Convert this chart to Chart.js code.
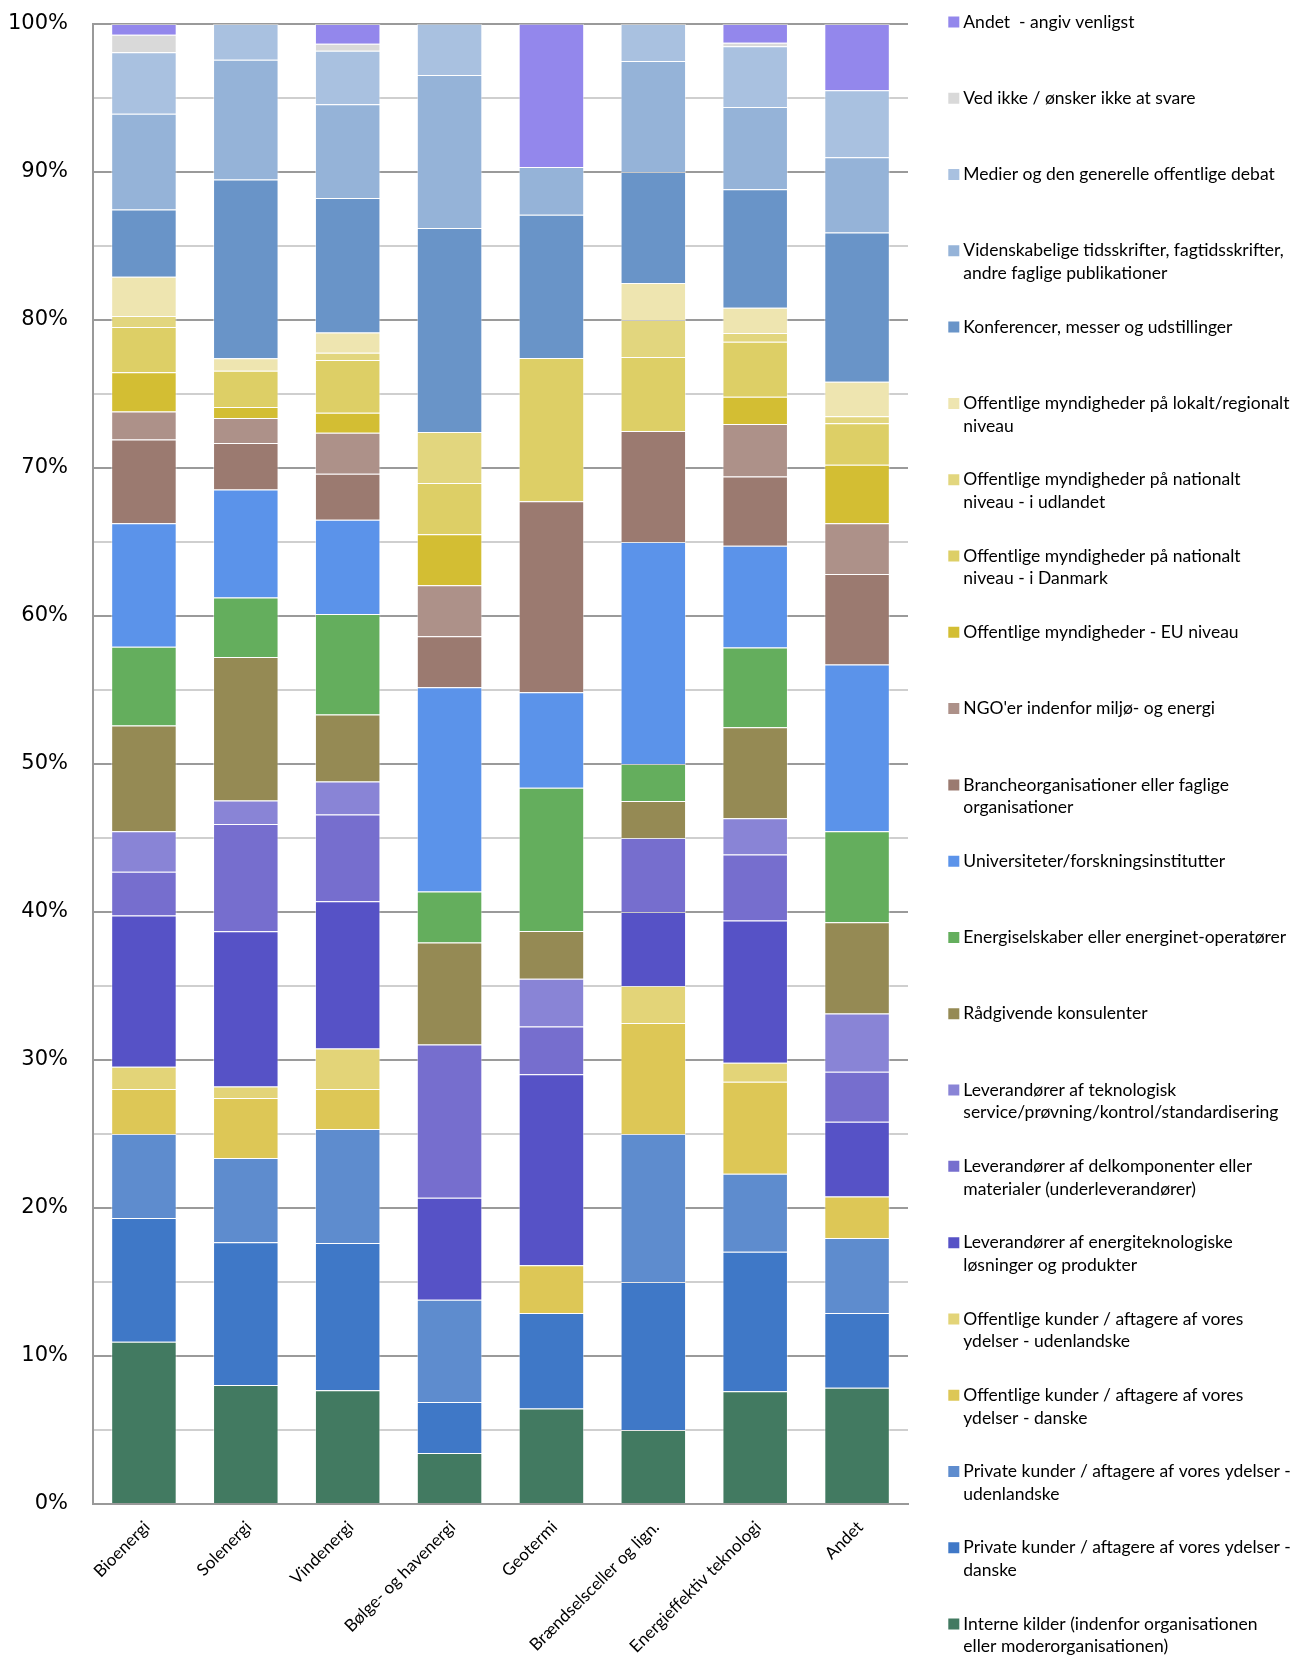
<!DOCTYPE html>
<html lang="da">
<head>
  <meta charset="UTF-8" />
  <title>Kilder til viden fordelt på teknologiområde</title>
  <script src="https://cdn.jsdelivr.net/npm/chart.js"></script>
  <style>
    html, body { margin: 0; padding: 0; background: #fff; }
    #wrap { width: 1302px; height: 1656px; position: relative; }
  </style>
</head>
<body>
  <div id="wrap"><canvas id="chart"></canvas></div>

  <script>
    // Teknologiområder (x-aksen)
    const categories = ['Bioenergi', 'Solenergi', 'Vindenergi', 'Bølge- og havenergi', 'Geotermi',
      'Brændselsceller og lign.', 'Energieffektiv teknologi', 'Andet'];

    // Andele i procent, en liste pr. kilde (nederst i stakken først)
    const interneKilder      = [10.97, 8.04, 7.68, 3.45, 6.45, 5.0, 7.61, 7.85];
    const privateDanske      = [8.35, 9.64, 9.95, 3.45, 6.45, 10.0, 9.44, 5.05];
    const privateUdenlandske = [5.68, 5.70, 7.71, 6.90, 0, 10.0, 5.27, 5.07];
    const offKunderDanske    = [3.04, 4.06, 2.70, 0, 3.23, 7.5, 6.21, 2.80];
    const offKunderUdenl     = [1.51, 0.77, 2.73, 0, 0, 2.5, 1.28, 0];
    const levEnergitek       = [10.21, 10.49, 9.95, 6.90, 12.90, 5.0, 9.61, 5.05];
    const levDelkomponenter  = [2.96, 7.25, 5.86, 10.34, 3.23, 5.0, 4.46, 3.38];
    const levTekService      = [2.73, 1.59, 2.24, 0, 3.23, 0, 2.46, 3.94];
    const raadgivende        = [7.15, 9.69, 4.53, 6.90, 3.23, 2.5, 6.14, 6.16];
    const energiselskaber    = [5.33, 4.02, 6.79, 3.45, 9.68, 2.5, 5.40, 6.15];
    const universiteter      = [8.34, 7.30, 6.36, 13.79, 6.45, 15.0, 6.87, 11.27];
    const brancheorg         = [5.66, 3.14, 3.11, 3.45, 12.90, 7.5, 4.67, 6.12];
    const ngoer              = [1.89, 1.69, 2.78, 3.45, 0, 0, 3.55, 3.42];
    const myndEU             = [2.65, 0.75, 1.35, 3.45, 0, 0, 1.84, 3.96];
    const myndNatDanmark     = [3.05, 2.44, 3.55, 3.45, 9.68, 5.0, 3.72, 2.80];
    const myndNatUdland      = [0.75, 0, 0.49, 3.45, 0, 2.5, 0.60, 0.48];
    const myndLokal          = [2.65, 0.85, 1.37, 0, 0, 2.5, 1.69, 2.32];
    const konferencer        = [4.54, 12.07, 9.09, 13.79, 9.68, 7.5, 8.02, 10.10];
    const videnskabelige     = [6.48, 8.09, 6.33, 10.34, 3.23, 7.5, 5.56, 5.07];
    const medier             = [4.15, 2.42, 3.62, 3.45, 0, 2.5, 4.10, 4.54];
    const vedIkke            = [1.19, 0, 0.48, 0, 0, 0, 0.24, 0];
    const andet              = [0.72, 0, 1.33, 0, 9.68, 0, 1.26, 4.47];

    const seriesValues = [interneKilder, privateDanske, privateUdenlandske, offKunderDanske, offKunderUdenl,
      levEnergitek, levDelkomponenter, levTekService, raadgivende, energiselskaber, universiteter,
      brancheorg, ngoer, myndEU, myndNatDanmark, myndNatUdland, myndLokal, konferencer,
      videnskabelige, medier, vedIkke, andet];

    // legend tekst, brudt i linjer som i originalen
    const seriesNames = [
      ['Interne kilder (indenfor organisationen', 'eller moderorganisationen)'],
      ['Private kunder / aftagere af vores ydelser -', 'danske'],
      ['Private kunder / aftagere af vores ydelser -', 'udenlandske'],
      ['Offentlige kunder / aftagere af vores', 'ydelser - danske'],
      ['Offentlige kunder / aftagere af vores', 'ydelser - udenlandske'],
      ['Leverandører af energiteknologiske', 'løsninger og produkter'],
      ['Leverandører af delkomponenter eller', 'materialer (underleverandører)'],
      ['Leverandører af teknologisk', 'service/prøvning/kontrol/standardisering'],
      ['Rådgivende konsulenter'],
      ['Energiselskaber eller energinet-operatører'],
      ['Universiteter/forskningsinstitutter'],
      ['Brancheorganisationer eller faglige', 'organisationer'],
      ["NGO'er indenfor miljø- og energi"],
      ['Offentlige myndigheder - EU niveau'],
      ['Offentlige myndigheder på nationalt', 'niveau - i Danmark'],
      ['Offentlige myndigheder på nationalt', 'niveau - i udlandet'],
      ['Offentlige myndigheder på lokalt/regionalt', 'niveau'],
      ['Konferencer, messer og udstillinger'],
      ['Videnskabelige tidsskrifter, fagtidsskrifter,', 'andre faglige publikationer'],
      ['Medier og den generelle offentlige debat'],
      ['Ved ikke / ønsker ikke at svare'],
      ['Andet  - angiv venligst']
    ];

    const seriesColors = ['#427a61', '#3f78c7', '#5e8cce', '#ddc756', '#e3d478',
      '#5652c6', '#766ece', '#8984d6', '#958a54', '#64ae5d', '#5b93ea',
      '#9b7a70', '#ad9189', '#d3be33', '#ddcf66', '#e2d67e', '#eee5b0',
      '#6994c8', '#95b3d8', '#a9c1e0', '#d9d9d9', '#9387ec'];

    const datasets = seriesValues.map((vals, i) => ({
      label: seriesNames[i].join(' '),
      data: vals,
      backgroundColor: seriesColors[i],
      borderColor: 'rgba(255,255,255,0.45)',
      borderWidth: 1,
      barPercentage: 0.643,
      categoryPercentage: 1
    }));

    const ctx = document.getElementById('chart').getContext('2d');

    new Chart(ctx, {
      type: 'bar',
      data: { labels: categories, datasets },
      options: {
        responsive: true,
        maintainAspectRatio: false,
        animation: false,
        layout: { padding: 0 },
        scales: {
          x: {
            stacked: true,
            grid: { display: false, drawTicks: false },
            border: { display: true, color: '#999', width: 2 },
            ticks: {
              autoSkip: false, maxRotation: 45, minRotation: 45, padding: 13, labelOffset: 3,
              color: '#000', font: { family: 'Lato', size: 17 }
            },
            afterFit(s) { s.height = 152; }
          },
          y: {
            stacked: true,
            min: 0, max: 100,
            grid: {
              drawTicks: false, lineWidth: 2,
              color: c => (c.tick && c.tick.value % 10 === 0) ? '#9a9a9a' : '#cfcfcf'
            },
            border: { display: true, color: '#999', width: 2 },
            ticks: {
              stepSize: 5, autoSkip: false, padding: 25,
              color: '#000', font: { family: 'DejaVu Sans', size: 21 },
              callback: v => (v % 10 === 0 ? v + '%' : '')
            },
            afterFit(s) { s.width = 93; s.paddingTop = 24; }
          },
          // tom akse for luften mellem plot og legend
          gap: {
            type: 'linear', position: 'right', display: true,
            grid: { display: false, drawTicks: false },
            border: { display: false },
            ticks: { display: false },
            afterFit(s) { s.width = 36.85; }
          }
        },
        plugins: {
          tooltip: { enabled: false },
          legend: {
            position: 'right',
            align: 'start',
            reverse: true,
            maxWidth: 357.15,
            title: { display: true, text: '', padding: 0, font: { size: 5, lineHeight: 1 } },
            labels: {
              usePointStyle: true, pointStyle: 'rect',
              boxWidth: 1.5, boxHeight: 11, padding: 8.2,
              color: '#000',
              font: { family: 'Lato', size: 17.5, lineHeight: 1.297 },
              generateLabels(chart) {
                const items = Chart.defaults.plugins.legend.labels.generateLabels(chart);
                items.forEach(it => {
                  const lines = seriesNames[it.datasetIndex].slice();
                  while (lines.length < 3) lines.push('');
                  it.text = lines;
                  it.pointStyle = 'rect';
                  it.lineWidth = 0;
                  it.strokeStyle = it.fillStyle;
                });
                return items;
              }
            }
          }
        }
      }
    });
  </script>
</body>
</html>
